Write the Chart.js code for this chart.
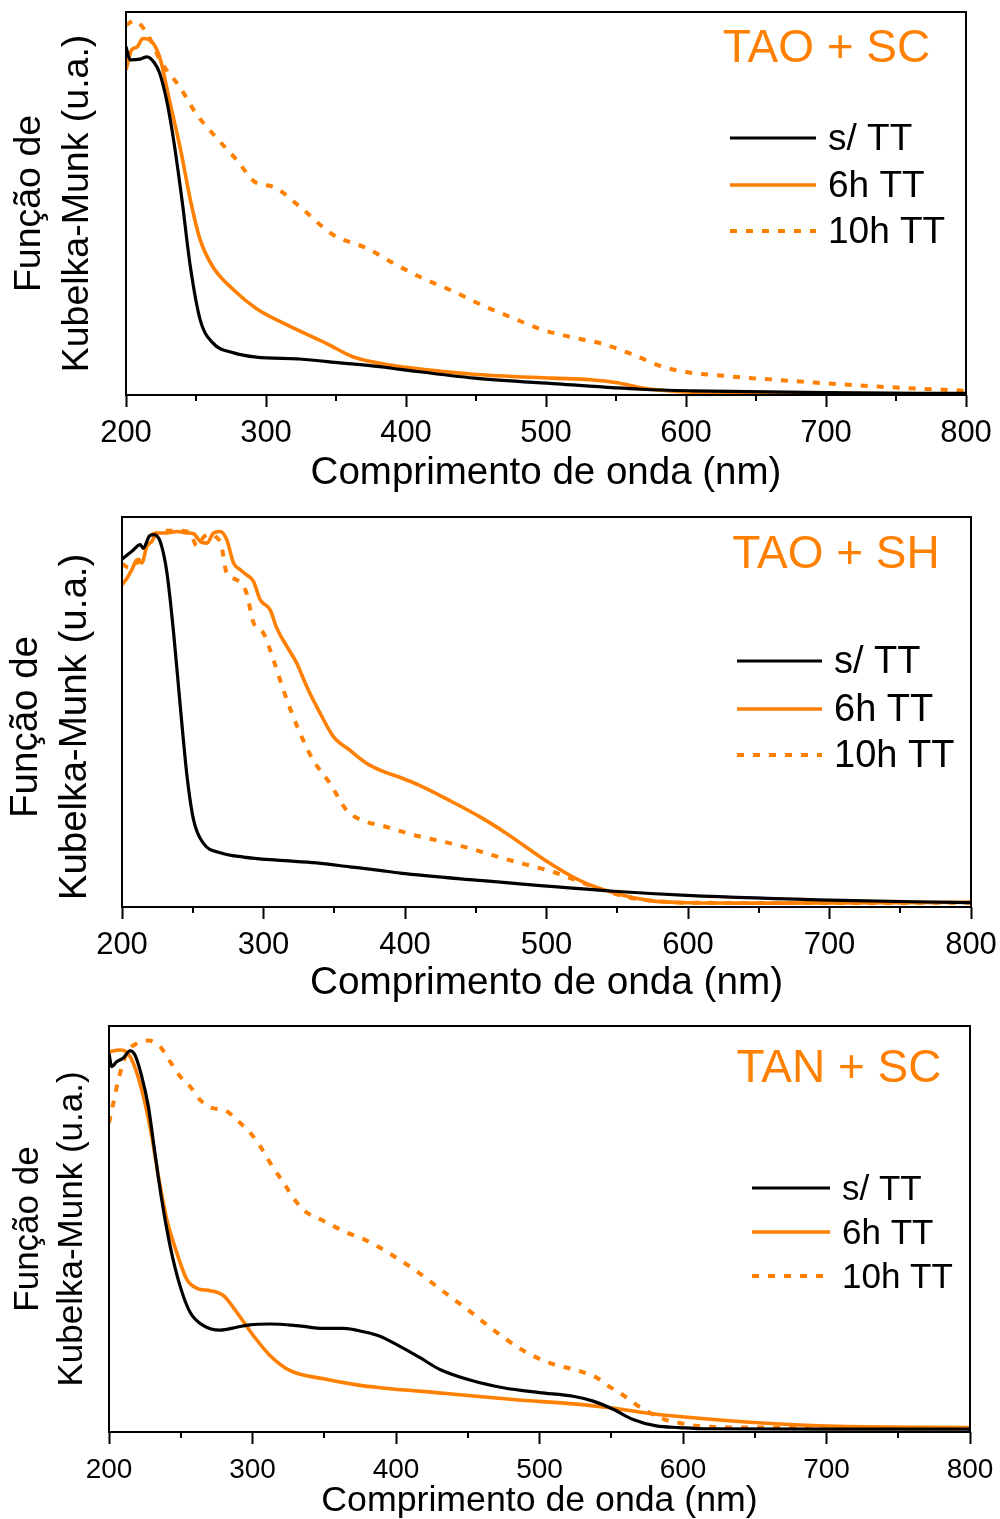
<!DOCTYPE html>
<html><head><meta charset="utf-8">
<script src="https://cdn.jsdelivr.net/npm/chart.js@4/dist/chart.umd.min.js"></script>
<style>
body{margin:0;background:#fff;width:1000px;height:1519px;position:relative;overflow:hidden}
.panel{position:absolute;left:0;width:1000px}
canvas{display:block}
</style></head><body>
<div class="panel" style="top:0;height:500px"><canvas id="c1" width="1000" height="500"></canvas></div>
<div class="panel" style="top:500px;height:510px"><canvas id="c2" width="1000" height="510"></canvas></div>
<div class="panel" style="top:1010px;height:509px"><canvas id="c3" width="1000" height="509"></canvas></div>
<script>
// ---------- labels ----------
const seriesLabels = ["s/ TT", "6h TT", "10h TT"];
const panelTitles = ["TAO + SC", "TAO + SH", "TAN + SC"];
const xAxisTitle = "Comprimento de onda (nm)";
const yAxisTitle = ["Função de", "Kubelka-Munk (u.a.)"];
const xTickMin = 200, xTickMax = 800, xTickStep = 100;
const xMinorTicks = [250, 350, 450, 550, 650, 750];

// ---------- Panel 1: TAO + SC ----------
const p1BlackX = [200,203,210,215,220,224,229,234,240,246,253,262,277,293,324,353,381,396,449,508,568,604,700,800];
const p1BlackY = [0.909,0.875,0.877,0.883,0.869,0.841,0.770,0.666,0.509,0.334,0.196,0.136,0.110,0.099,0.094,0.084,0.074,0.067,0.044,0.029,0.015,0.011,0.006,0.004];
const p1SixX = [200,204,208,212,217,224,231,239,246,253,262,277,293,315,343,362,389,446,504,532,551,566,580,604,700,800];
const p1SixY = [0.849,0.901,0.909,0.931,0.927,0.883,0.770,0.640,0.509,0.405,0.335,0.274,0.226,0.183,0.135,0.100,0.078,0.055,0.044,0.040,0.032,0.020,0.013,0.007,0.004,0.003];
const p1TenX = [200,206,215,225,239,250,265,279,293,305,324,348,372,391,413,433,454,475,496,518,539,561,583,600,627,682,737,800];
const p1TenY = [0.966,0.977,0.944,0.870,0.801,0.735,0.670,0.614,0.554,0.544,0.492,0.418,0.383,0.344,0.303,0.272,0.235,0.203,0.172,0.151,0.135,0.107,0.074,0.060,0.050,0.035,0.022,0.011];

// ---------- Panel 2: TAO + SH ----------
const p2BlackX = [200,207,213,215,219.5,222.4,227,231.8,236.5,241.2,246,250.6,257.6,269.4,285.9,309.4,337.6,361,382,396.5,450,545,599,708,800];
const p2BlackY = [0.892,0.912,0.929,0.920,0.952,0.955,0.937,0.856,0.702,0.514,0.334,0.223,0.163,0.139,0.128,0.120,0.113,0.103,0.094,0.087,0.069,0.041,0.030,0.017,0.011];
const p2SixX = [200,203.5,207,210.6,214,217.6,221,224.7,231.8,238.8,245.9,250.6,255.3,260,264.7,269.4,274,278.8,283.5,287.9,292.9,297.6,304.7,309.4,316.5,323.5,330.6,340,349.4,361,373,382.4,398,409.5,431,453,472,499,523,545,572,599,654,800];
const p2SixY = [0.826,0.843,0.865,0.890,0.882,0.925,0.937,0.959,0.959,0.963,0.959,0.957,0.937,0.933,0.959,0.963,0.942,0.882,0.865,0.852,0.835,0.788,0.762,0.715,0.668,0.625,0.565,0.497,0.437,0.402,0.368,0.351,0.330,0.313,0.274,0.231,0.188,0.120,0.069,0.039,0.017,0.011,0.010,0.012];
const p2TenX = [200,205,210,215,220,225,232,240,248,253,258,262,266,270,274,281,288,293,300,307,314,321,328,335,347,358.8,373,382.4,406.8,439.3,471.9,504.4,534,556,572,600,700,800];
const p2TenY = [0.880,0.870,0.880,0.910,0.950,0.960,0.965,0.965,0.960,0.925,0.950,0.955,0.950,0.930,0.856,0.839,0.805,0.728,0.702,0.634,0.557,0.488,0.428,0.377,0.317,0.248,0.218,0.210,0.184,0.157,0.122,0.090,0.051,0.026,0.017,0.011,0.010,0.011];

// ---------- Panel 3: TAN + SC ----------
const p3BlackX = [200,201.9,205.3,210,214.7,218,222.8,227.4,232,236.7,242.6,249.5,256.5,265.8,277.4,289,298,312,331,349.5,363.5,377.4,388.9,400.5,416.7,430.6,451.5,474.7,500,523.4,537.4,551.3,565.2,581.4,597.7,615,700,800];
const p3BlackY = [0.933,0.900,0.912,0.921,0.939,0.929,0.876,0.802,0.687,0.573,0.458,0.360,0.295,0.262,0.251,0.258,0.264,0.266,0.262,0.255,0.255,0.247,0.236,0.215,0.183,0.154,0.128,0.109,0.097,0.088,0.076,0.056,0.031,0.015,0.011,0.008,0.007,0.007];
const p3SixX = [200,207.7,212,217,224,229.8,234.4,240.2,247.2,254.2,261.2,270.5,279.8,289,300.7,312.3,326.3,349.5,372.8,388.9,435,481.7,528,551,574.5,597.7,655,708.5,800];
const p3SixY = [0.937,0.941,0.937,0.908,0.826,0.728,0.630,0.524,0.442,0.376,0.354,0.348,0.336,0.295,0.237,0.188,0.151,0.131,0.116,0.109,0.095,0.080,0.068,0.059,0.047,0.038,0.022,0.014,0.011];
const p3TenX = [200,203,206.5,212.3,219.3,227.4,235.6,242.6,249.5,256.5,263.5,270.5,282,291.4,298.4,305.3,312.3,321.6,330.9,338,347.2,356.5,365.8,377.4,386.7,395.8,414.4,433,451.5,467.7,487.5,507,528,539.7,549,559.4,568.7,587,596.5,610,650,800];
const p3TenY = [0.761,0.810,0.867,0.933,0.957,0.964,0.949,0.912,0.876,0.851,0.818,0.800,0.790,0.761,0.737,0.704,0.663,0.614,0.565,0.540,0.524,0.507,0.491,0.475,0.458,0.439,0.396,0.346,0.297,0.252,0.203,0.170,0.150,0.134,0.111,0.088,0.064,0.031,0.023,0.015,0.011,0.010];

const ORANGE = '#ff8000';
const FONT = "'Liberation Sans', Arial, sans-serif";

function pts(xs, ys){ return xs.map((x,i)=>({x:x, y:ys[i]})); }

const framePlugin = {
  id: 'frameAndDecor',
  afterDatasetsDraw(chart){
    const {ctx, chartArea:a} = chart;
    const g = chart.options.plugins.frameAndDecor;
    ctx.save();
    ctx.strokeStyle = '#000';
    ctx.lineWidth = 2;
    ctx.setLineDash([]);
    ctx.strokeRect(a.left, a.top, a.right - a.left, a.bottom - a.top);
    const xs = chart.scales.x;
    ctx.beginPath();
    xMinorTicks.forEach(v => {
      const px = Math.round(xs.getPixelForValue(v));
      ctx.moveTo(px, a.bottom); ctx.lineTo(px, a.bottom + 6);
    });
    ctx.stroke();
    // legend
    ctx.font = g.legendFont + 'px ' + FONT;
    ctx.textBaseline = 'middle';
    ctx.textAlign = 'left';
    chart.data.datasets.forEach((ds, i) => {
      const y = g.legendY[i];
      ctx.beginPath();
      ctx.strokeStyle = ds.borderColor;
      ctx.lineWidth = ds.borderWidth;
      ctx.lineCap = 'butt';
      ctx.setLineDash(ds.borderDash || []);
      ctx.moveTo(g.legendX0, y); ctx.lineTo(g.legendX1, y);
      ctx.stroke();
      ctx.setLineDash([]);
      ctx.fillStyle = '#000';
      ctx.fillText(ds.label, g.legendTextX, y + 2);
    });
    // panel label
    ctx.font = g.labelFont + 'px ' + FONT;
    ctx.fillStyle = ORANGE;
    ctx.textAlign = 'center';
    ctx.fillText(g.label, g.labelX, g.labelY);
    ctx.restore();
  }
};

function makePanel(id, d, g){
  const datasets = [
    {label: seriesLabels[0], data: pts(d[0], d[1]), borderColor: '#000', borderWidth: 3.2},
    {label: seriesLabels[1], data: pts(d[2], d[3]), borderColor: ORANGE, borderWidth: 3.6},
    {label: seriesLabels[2], data: pts(d[4], d[5]), borderColor: ORANGE, borderWidth: 4, borderDash: [7, 9]}
  ];
  datasets.forEach(ds => { ds.pointRadius = 0; ds.fill = false; ds.cubicInterpolationMode = 'monotone'; ds.borderCapStyle = 'butt'; });
  const yTitle = yAxisTitle.map(t => t + (g.yTitleTail || ''));
  new Chart(document.getElementById(id), {
    type: 'line',
    data: {datasets},
    options: {
      responsive: false, animation: false, devicePixelRatio: 1,
      layout: {padding: {left: 0, right: g.padRight, top: g.padTop, bottom: 0}},
      plugins: {
        legend: {display: false}, tooltip: {enabled: false},
        frameAndDecor: g
      },
      scales: {
        x: {
          type: 'linear', min: xTickMin, max: xTickMax,
          afterFit(s){ s.height = g.xh; s.paddingLeft = 0; s.paddingRight = 0; },
          border: {display: false},
          grid: {display: true, drawOnChartArea: false, drawTicks: true, tickLength: 12, tickWidth: 2, tickColor: '#000'},
          ticks: {stepSize: xTickStep, autoSkip: false, maxRotation: 0, color: '#000', padding: g.tickPad,
                  font: {family: FONT, size: g.tickFont}},
          title: {display: true, text: xAxisTitle, color: '#000',
                  font: {family: FONT, size: g.xTitleFont, lineHeight: g.xTitleLH},
                  padding: {top: 0, bottom: g.xTitlePadB}}
        },
        y: {
          type: 'linear', min: 0, max: 1,
          afterFit(s){ s.width = g.yw; s.paddingTop = 0; s.paddingBottom = 0; },
          border: {display: false},
          grid: {display: false},
          ticks: {display: false},
          title: {display: true, text: yTitle, color: '#000',
                  font: {family: FONT, size: g.yTitleFont, lineHeight: g.yTitleLH},
                  padding: {top: g.yTitlePadT, bottom: 0}}
        }
      }
    },
    plugins: [framePlugin]
  });
}

makePanel('c1', [p1BlackX,p1BlackY,p1SixX,p1SixY,p1TenX,p1TenY], {
  padTop: 12, padRight: 34, yw: 126, xh: 105,
  tickFont: 31, tickPad: 8, xTitleFont: 38.5, xTitleLH: 1.2, xTitlePadB: 4,
  yTitleFont: 37.5, yTitleLH: 48/37.5, yTitlePadT: 6,
  legendX0: 730, legendX1: 816, legendY: [138, 185, 231], legendTextX: 828, legendFont: 37,
  label: panelTitles[0], labelX: 826.5, labelY: 49, labelFont: 46
});
makePanel('c2', [p2BlackX,p2BlackY,p2SixX,p2SixY,p2TenX,p2TenY], {
  padTop: 17, padRight: 29, yw: 122, xh: 103,
  tickFont: 31, tickPad: 8, xTitleFont: 38.7, xTitleLH: 1.2, xTitlePadB: 3,
  yTitleFont: 38.5, yTitleLH: 49/38.5, yTitlePadT: 1.5, yTitleTail: '\u2002 ',
  legendX0: 737, legendX1: 822, legendY: [161, 209, 255], legendTextX: 834, legendFont: 38,
  label: panelTitles[1], labelX: 836, labelY: 55, labelFont: 46
});
makePanel('c3', [p3BlackX,p3BlackY,p3SixX,p3SixY,p3TenX,p3TenY], {
  padTop: 16, padRight: 30, yw: 109, xh: 87,
  tickFont: 28, tickPad: 9, xTitleFont: 35.7, xTitleLH: 1.0, xTitlePadB: 0,
  yTitleFont: 35, yTitleLH: 44/35, yTitlePadT: 6,
  legendX0: 752, legendX1: 830, legendY: [178, 222, 266], legendTextX: 842, legendFont: 35,
  label: panelTitles[2], labelX: 839, labelY: 59.5, labelFont: 46
});
</script>
</body></html>
